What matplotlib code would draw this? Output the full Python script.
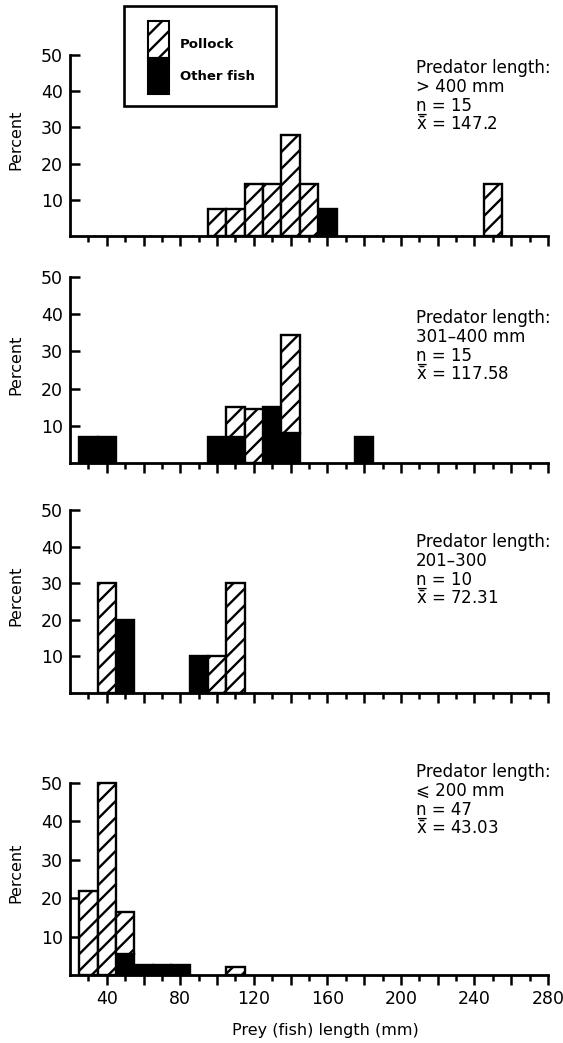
import matplotlib
matplotlib.use("Agg")
import matplotlib.pyplot as plt
from matplotlib.patches import Rectangle
from matplotlib.ticker import FixedLocator, FuncFormatter
import numpy as np

plt.rcParams['font.family'] = ['DejaVu Sans']
plt.rcParams['mathtext.fontset'] = 'dejavusans'
plt.rcParams['hatch.linewidth'] = 1.7

# ---------------- data ----------------
XBAR = r"$\bar{\mathrm{x}}$"

# Panel 1: predator length > 400 mm
p1_bins = [100, 110, 120, 130, 140, 150, 160, 250]
p1_other = [0, 0, 0, 0, 0, 0, 7.5, 0]
p1_pollock = [7.5, 7.5, 14.5, 14.5, 28, 14.5, 0, 14.5]
p1_text = ["Predator length:", "> 400 mm", "n\u0332 = 15", XBAR + " = 147.2"]

# Panel 2: predator length 301-400 mm
p2_bins = [30, 40, 100, 110, 120, 130, 140, 180]
p2_other = [7, 7, 7, 7, 0, 15, 8, 7]
p2_pollock = [0, 0, 0, 8, 14.5, 0, 26.5, 0]
p2_text = ["Predator length:", "301\u2013400 mm", "n\u0332 = 15", XBAR + " = 117.58"]

# Panel 3: predator length 201-300
p3_bins = [40, 50, 90, 100, 110]
p3_other = [0, 20, 10, 0, 0]
p3_pollock = [30, 0, 0, 10, 30]
p3_text = ["Predator length:", "201\u2013300", "n\u0332 = 10", XBAR + " = 72.31"]

# Panel 4: predator length <= 200 mm
p4_bins = [30, 40, 50, 60, 70, 80, 110]
p4_other = [0, 0, 5.5, 2.5, 2.5, 2.5, 0]
p4_pollock = [22, 50, 11, 0, 0, 0, 2]
p4_text = ["Predator length:", "\u2A7D 200 mm", "n\u0332 = 47", XBAR + " = 43.03"]

y_ticks = [10, 20, 30, 40, 50]
x_major_ticks = list(range(40, 281, 20))
x_minor_ticks = list(range(30, 281, 20))
x_tick_labels = [40, 80, 120, 160, 200, 240, 280]
legend_labels = ["Pollock", "Other fish"]

BIN_WIDTH = 10

# ---------------- layout (pixels) ----------------
W, H = 563, 1043
fig = plt.figure(figsize=(W / 100, H / 100), dpi=100)
fig.patch.set_facecolor('white')

AX_L, AX_R = 70, 548
panel_px = [(55, 236), (277, 463), (510, 693), (783, 975)]
text_px = [[68, 87, 106, 125], [318, 337, 356, 375],
           [542, 561, 580, 599], [772, 791, 810, 829]]
TEXT_X = 416

panels = [
    (p1_bins, p1_other, p1_pollock, p1_text),
    (p2_bins, p2_other, p2_pollock, p2_text),
    (p3_bins, p3_other, p3_pollock, p3_text),
    (p4_bins, p4_other, p4_pollock, p4_text),
]

LW = 1.7

for i, ((bins, other, pollock, texts), (top, bot)) in enumerate(zip(panels, panel_px)):
    ax = fig.add_axes([AX_L / W, 1 - bot / H, (AX_R - AX_L) / W, (bot - top) / H])
    bins = np.asarray(bins, float)
    other = np.asarray(other, float)
    pollock = np.asarray(pollock, float)

    m = other > 0
    ax.bar(bins[m], other[m], width=BIN_WIDTH, facecolor='black',
           edgecolor='black', linewidth=LW, clip_on=False, zorder=2)
    m = pollock > 0
    ax.bar(bins[m], pollock[m], width=BIN_WIDTH, bottom=other[m],
           facecolor='white', edgecolor='black', hatch='//',
           linewidth=LW, clip_on=False, zorder=2)

    ax.set_xlim(20, 280)
    ax.set_ylim(0, 50)
    for s in ('top', 'right'):
        ax.spines[s].set_visible(False)
    for s in ('left', 'bottom'):
        ax.spines[s].set_linewidth(2.0)
        ax.spines[s].set_zorder(3)

    ax.yaxis.set_major_locator(FixedLocator(y_ticks))
    ax.tick_params(axis='y', direction='in', length=7, width=1.8,
                   labelsize=12.5, pad=5)
    ax.xaxis.set_major_locator(FixedLocator(x_major_ticks))
    ax.xaxis.set_minor_locator(FixedLocator(x_minor_ticks))
    ax.tick_params(axis='x', which='major', direction='out', length=7.5,
                   width=1.8, labelsize=12.5, pad=3)
    ax.tick_params(axis='x', which='minor', direction='out', length=4.5,
                   width=1.8)
    if i < 3:
        ax.tick_params(axis='x', labelbottom=False)
    else:
        ax.xaxis.set_major_formatter(FuncFormatter(
            lambda v, p: f"{int(v)}" if int(v) in x_tick_labels else ""))

    ax.set_ylabel("Percent", fontsize=11.5)
    ax.yaxis.set_label_coords(-0.098, 0.53)

    for t, ty in zip(texts, text_px[i]):
        fig.text(TEXT_X / W, 1 - ty / H, t, ha='left', va='center',
                 fontsize=12)

fig.text(325 / W, 1 - 1030 / H, "Prey (fish) length (mm)", ha='center',
         va='center', fontsize=11.5)

# ---------------- legend box ----------------
def px_rect(x0, y0, x1, y1, **kw):
    r = Rectangle((x0 / W, 1 - y1 / H), (x1 - x0) / W, (y1 - y0) / H,
                  transform=fig.transFigure, **kw)
    fig.add_artist(r)
    return r

px_rect(124, 6, 276, 106, fill=False, edgecolor='black', linewidth=1.9)
px_rect(148, 21, 169, 58, facecolor='white', edgecolor='black',
        hatch='//', linewidth=1.5)
px_rect(148, 58, 169, 94, facecolor='black', edgecolor='black', linewidth=1.5)
fig.text(180 / W, 1 - 44 / H, legend_labels[0], ha='left', va='center',
         fontsize=9.5, fontweight='bold')
fig.text(180 / W, 1 - 77 / H, legend_labels[1], ha='left', va='center',
         fontsize=9.5, fontweight='bold')

fig.savefig("out.png", dpi=100, facecolor='white')
